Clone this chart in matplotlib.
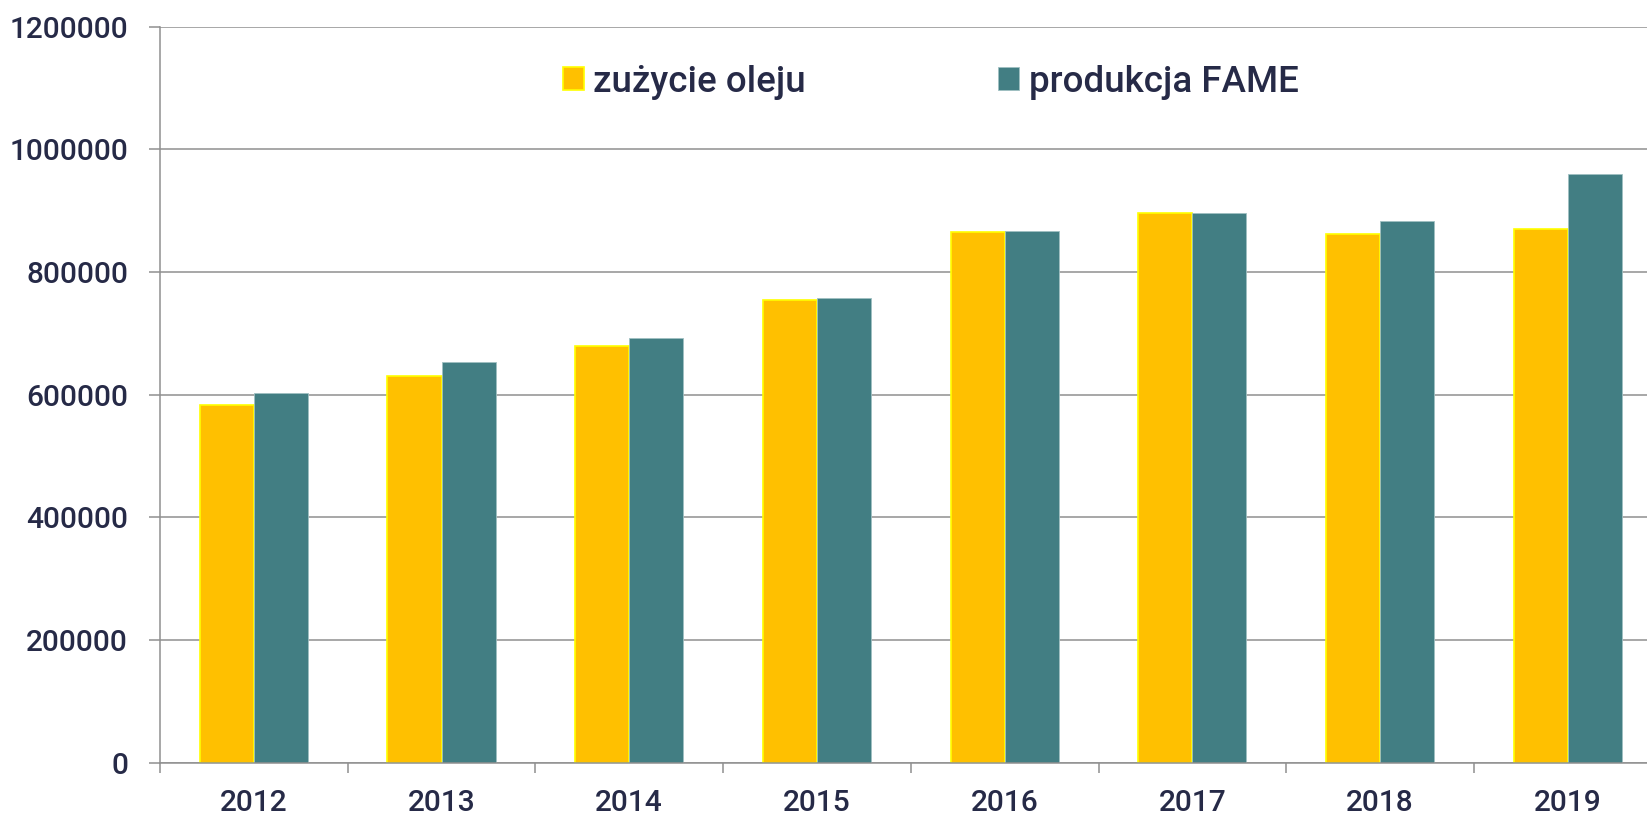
import matplotlib
matplotlib.use("Agg")
import matplotlib.pyplot as plt
import numpy as np

years = ["2012", "2013", "2014", "2015", "2016", "2017", "2018", "2019"]
zuzycie_oleju = [583000, 631000, 679000, 755000, 866000, 897000, 862000, 870000]
produkcja_fame = [602000, 654000, 692000, 758000, 867000, 897000, 883000, 960000]
series_names = ["zużycie oleju", "produkcja FAME"]
yticks = [0, 200000, 400000, 600000, 800000, 1000000, 1200000]

plt.rcParams['font.family'] = ['Roboto', 'DejaVu Sans']
plt.rcParams['font.weight'] = 'medium'
TEXT = '#262a47'
GRID = '#8f8f8f'
YEL = '#ffc000'
TEAL = '#427e83'

W, H = 1647, 817
fig = plt.figure(figsize=(W / 100, H / 100), dpi=100)
ax = fig.add_axes([160 / W, (H - 762.7) / H, (W - 160) / W, 736 / H])

x = np.arange(len(years))
bw = 0.288
ax.bar(x - bw / 2, zuzycie_oleju, width=bw, color=YEL, edgecolor='#ffff00',
       linewidth=1.2, label=series_names[0], zorder=3)
ax.bar(x + bw / 2, produkcja_fame, width=bw, color=TEAL, edgecolor='#9fc0c2',
       linewidth=0.6, label=series_names[1], zorder=3)

for s in ['top', 'right']:
    ax.spines[s].set_visible(False)
for s in ['left', 'bottom']:
    ax.spines[s].set_color(GRID)
    ax.spines[s].set_linewidth(1.1)
ax.spines['bottom'].set_zorder(4)

ax.set_yticks(yticks)
ax.set_yticklabels([str(v) for v in yticks])
ax.yaxis.grid(True, color=GRID, linewidth=1.1, zorder=0)
ax.tick_params(axis='y', length=8, width=1.1, color=GRID, pad=15,
               labelsize=21.5, labelcolor=TEXT)

ax.set_xticks(np.arange(-0.5, len(years), 1.0))
ax.set_xticklabels([])
ax.set_xticks(x, minor=True)
ax.set_xticklabels(years, minor=True)
ax.tick_params(axis='x', which='major', length=7.5, width=1.1, color=GRID)
ax.tick_params(axis='x', which='minor', length=0, pad=19,
               labelsize=21.5, labelcolor=TEXT)

# limits set after ticks so that set_xticks does not expand the view
ax.set_xlim(-0.5, -0.5 + (W - 160) / 187.7)
ax.set_ylim(0, 1200000)

fs = 26.5
em = fs * 100 / 72
leg = ax.legend(loc='center left', bbox_to_anchor=(562.7 / W, 1 - 82 / H),
                bbox_transform=fig.transFigure, ncol=2, frameon=False,
                fontsize=fs, handlelength=21 / em, handleheight=21 / em,
                handletextpad=9.7 / em, columnspacing=192 / em, borderpad=0,
                borderaxespad=0)
for t in leg.get_texts():
    t.set_color(TEXT)

fig.savefig("out.png", dpi=100)
